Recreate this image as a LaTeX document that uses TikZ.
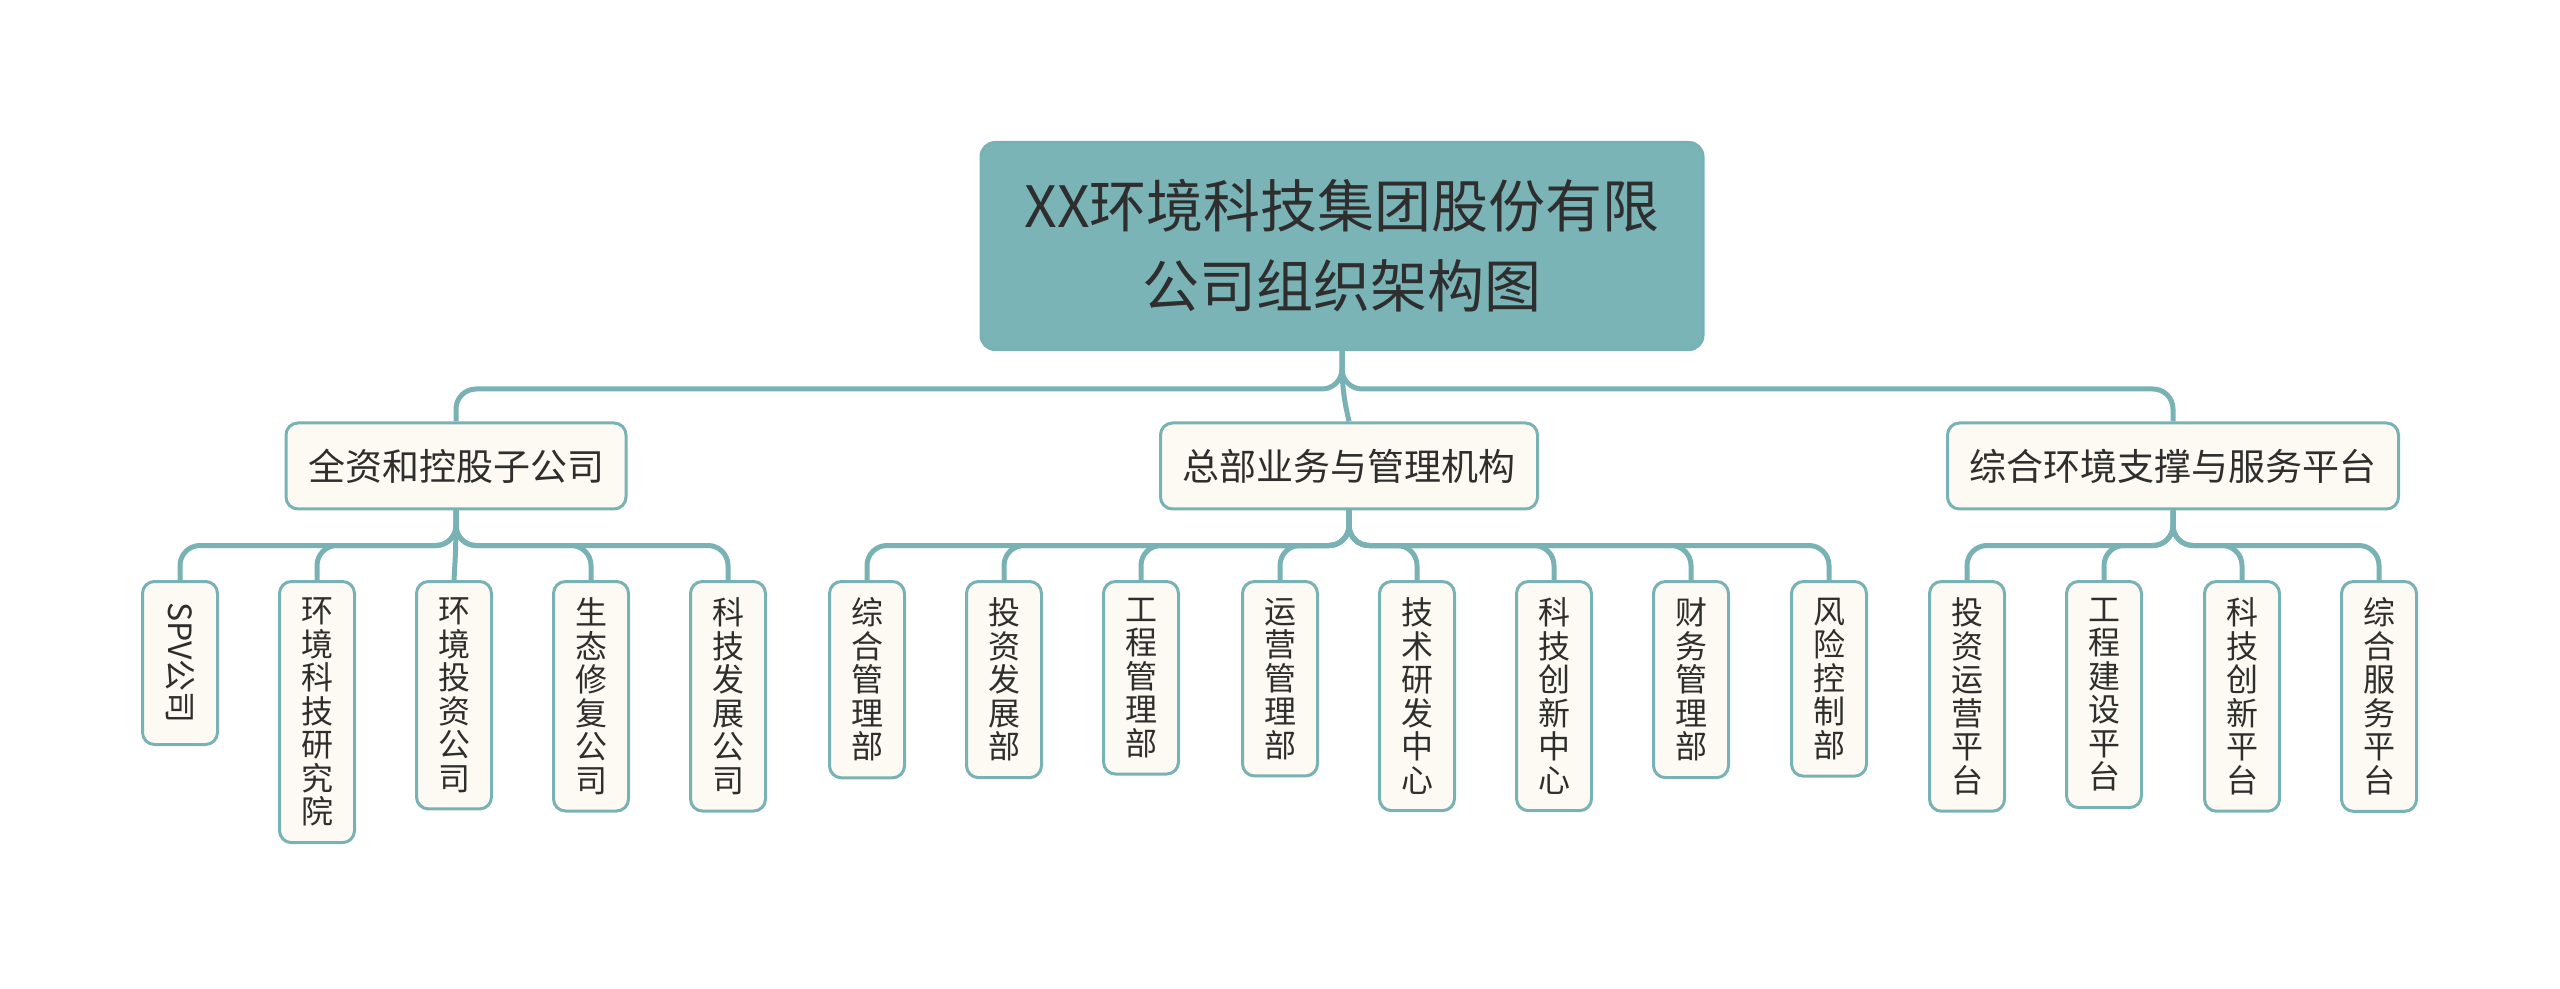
\documentclass[tikz,border=0pt]{standalone}
\usepackage{fontspec}
\newfontfamily\cjk{Noto Sans CJK SC}
\definecolor{linecol}{HTML}{78B2B4}
\definecolor{rootfill}{HTML}{7BB4B6}
\definecolor{boxfill}{HTML}{FCFAF2}
\definecolor{textcol}{HTML}{2E2E2E}

\begin{document}
\begin{tikzpicture}[
    x=0.5pt, y=-0.5pt,
    link/.style={draw=linecol, line width=2.5pt, rounded corners=10pt},
    title/.style={draw=linecol, fill=rootfill, line width=1.5pt,
      rounded corners=7pt, minimum width=361pt, minimum height=103.5pt,
      align=center, text=textcol, font=\cjk\fontsize{28.5}{40}\selectfont},
    branch/.style={draw=linecol, fill=boxfill, line width=1.5pt,
      rounded corners=6pt, minimum height=43pt, inner xsep=11pt,
      text=textcol, font=\cjk\fontsize{18.5}{22}\selectfont},
    unit/.style={draw=linecol, fill=boxfill, line width=1.5pt,
      rounded corners=6pt, minimum width=37.5pt, inner ysep=8.2pt,
      inner xsep=2pt, anchor=north, align=center,
      text=textcol, font=\cjk\fontsize{16}{16.75}\selectfont},
  ]
    \useasboundingbox (0,0) rectangle (2560,989);

    \node[title] (root) at (1342,246) {XX环境科技集团股份有限\\公司组织架构图};

    \node[branch] (hold) at (456,466) {全资和控股子公司};
    \node[branch] (hq) at (1349,466) {总部业务与管理机构};
    \node[branch] (plat) at (2173,466) {综合环境支撑与服务平台};

    \draw[link] (root.south) -- ++(0,38) -| (hold.north);
    \draw[link] (root.south) -- ++(0,38) -- (hq.north);
    \draw[link] (root.south) -- ++(0,38) -| (plat.north);

    % subsidiaries
    \node[unit, rotate=-90, anchor=west, minimum height=37.5pt,
      minimum width=81.5pt, inner xsep=4pt] (hold1) at (180,580) {SPV公司};
    \node[unit] (hold2) at (317,580) {环\\境\\科\\技\\研\\究\\院};
    \node[unit] (hold3) at (454,580) {环\\境\\投\\资\\公\\司};
    \node[unit] (hold4) at (591,580) {生\\态\\修\\复\\公\\司};
    \node[unit] (hold5) at (728,580) {科\\技\\发\\展\\公\\司};

    \draw[link] (hold.south) -- ++(0,35) -| (hold1.west);
    \draw[link] (hold.south) -- ++(0,35) -| (hold2.north);
    \draw[link] (hold.south) -- ++(0,35) -- (hold3.north);
    \draw[link] (hold.south) -- ++(0,35) -| (hold4.north);
    \draw[link] (hold.south) -- ++(0,35) -| (hold5.north);

    % headquarters
    \node[unit] (hq1) at (867,580) {综\\合\\管\\理\\部};
    \node[unit] (hq2) at (1004,580) {投\\资\\发\\展\\部};
    \node[unit] (hq3) at (1141,580) {工\\程\\管\\理\\部};
    \node[unit] (hq4) at (1280,580) {运\\营\\管\\理\\部};
    \node[unit] (hq5) at (1417,580) {技\\术\\研\\发\\中\\心};
    \node[unit] (hq6) at (1554,580) {科\\技\\创\\新\\中\\心};
    \node[unit] (hq7) at (1691,580) {财\\务\\管\\理\\部};
    \node[unit] (hq8) at (1829,580) {风\\险\\控\\制\\部};

    \draw[link] (hq.south) -- ++(0,35) -| (hq1.north);
    \draw[link] (hq.south) -- ++(0,35) -| (hq2.north);
    \draw[link] (hq.south) -- ++(0,35) -| (hq3.north);
    \draw[link] (hq.south) -- ++(0,35) -| (hq4.north);
    \draw[link] (hq.south) -- ++(0,35) -| (hq5.north);
    \draw[link] (hq.south) -- ++(0,35) -| (hq6.north);
    \draw[link] (hq.south) -- ++(0,35) -| (hq7.north);
    \draw[link] (hq.south) -- ++(0,35) -| (hq8.north);

    % platforms
    \node[unit] (plat1) at (1967,580) {投\\资\\运\\营\\平\\台};
    \node[unit] (plat2) at (2104,580) {工\\程\\建\\设\\平\\台};
    \node[unit] (plat3) at (2242,580) {科\\技\\创\\新\\平\\台};
    \node[unit] (plat4) at (2379,580) {综\\合\\服\\务\\平\\台};

    \draw[link] (plat.south) -- ++(0,35) -| (plat1.north);
    \draw[link] (plat.south) -- ++(0,35) -| (plat2.north);
    \draw[link] (plat.south) -- ++(0,35) -| (plat3.north);
    \draw[link] (plat.south) -- ++(0,35) -| (plat4.north);
\end{tikzpicture}
\end{document}
